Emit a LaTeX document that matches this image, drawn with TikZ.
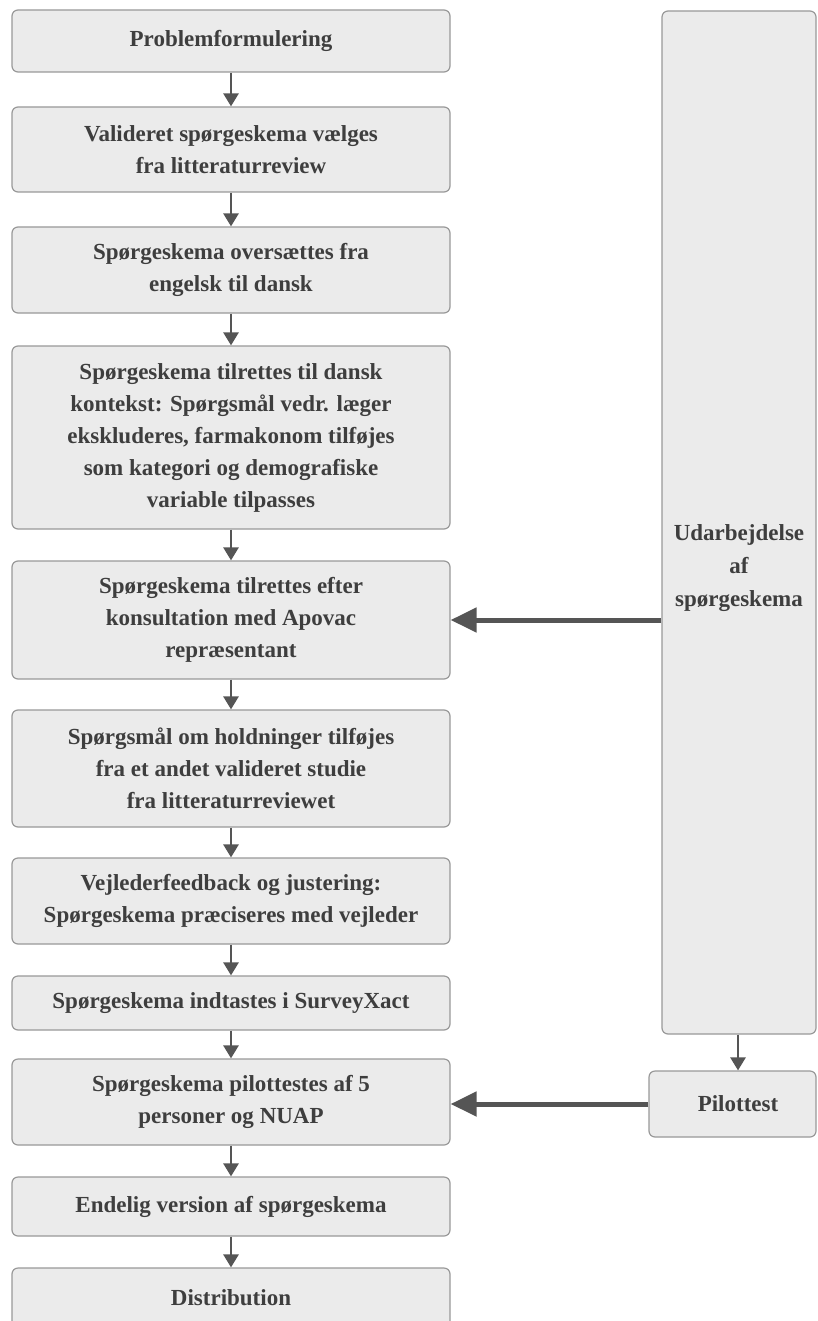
\documentclass[tikz,border=0pt]{standalone}
\usepackage{fontspec}
\setmainfont{Liberation Serif}
\usetikzlibrary{arrows.meta}
\definecolor{boxfill}{HTML}{EBEBEB}
\definecolor{boxline}{HTML}{999999}
\definecolor{txt}{HTML}{3E3E3E}
\definecolor{arr}{HTML}{555555}
\tikzset{
  stepbox/.style={draw=boxline, fill=boxfill, line width=1.2pt, rounded corners=6pt,
    minimum width=438pt, align=center, text=txt, inner sep=0pt,
    font=\fontsize{23}{32}\selectfont\bfseries},
  sidebox/.style={draw=boxline, fill=boxfill, line width=1.2pt, rounded corners=6pt,
    inner sep=0pt},
  sidetext/.style={align=center, text=txt, inner sep=0pt,
    font=\fontsize{23}{33}\selectfont\bfseries},
  flow/.style={draw=arr, line width=2.6pt, -{Triangle[width=15pt,length=13pt]}},
  feed/.style={draw=arr, line width=5pt, -{Triangle[width=24pt,length=26pt]}},
}
\begin{document}
\begin{tikzpicture}[x=1pt,y=-1pt]
\clip (0,0) rectangle (817,1321);
\fill[white] (0,0) rectangle (817,1321);
% left column
\node[stepbox, minimum height=62pt]  (b1)  at (231,41)    {Problemformulering};
\node[stepbox, minimum height=85pt]  (b2)  at (231,149.5) {Valideret spørgeskema vælges\\fra litteraturreview};
\node[stepbox, minimum height=86pt]  (b3)  at (231,270)   {Spørgeskema oversættes fra\\engelsk til dansk};
\node[stepbox, minimum height=183pt] (b4)  at (231,437.5) {Spørgeskema tilrettes til dansk\\kontekst: Spørgsmål vedr. læger\\ekskluderes, farmakonom tilføjes\\som kategori og demografiske\\variable tilpasses};
\node[stepbox, minimum height=118pt] (b5)  at (231,620)   {Spørgeskema tilrettes efter\\konsultation med Apovac\\repræsentant};
\node[stepbox, minimum height=117pt] (b6)  at (231,768.5) {Spørgsmål om holdninger tilføjes\\fra et andet valideret studie\\fra litteraturreviewet};
\node[stepbox, minimum height=86pt]  (b7)  at (231,901)   {Vejlederfeedback og justering:\\Spørgeskema præciseres med vejleder};
\node[stepbox, minimum height=54pt]  (b8)  at (231,1003)  {Spørgeskema indtastes i SurveyXact};
\node[stepbox, minimum height=86pt]  (b9)  at (231,1102)  {Spørgeskema pilottestes af 5\\personer og NUAP};
\node[stepbox, minimum height=59pt]  (b10) at (231,1206.5){Endelig version af spørgeskema};
\node[stepbox, minimum height=90pt]  (b11) at (231,1313)  {};
\node[text=txt, font=\fontsize{23}{32}\selectfont\bfseries] (b11t) at (231,1298) {Distribution};
% right column
\node[sidebox, minimum width=154pt, minimum height=1023pt] (col) at (739,522.5) {};
\node[sidetext] (colt) at (739,568) {Udarbejdelse\\af\\spørgeskema};
\node[sidebox, minimum width=167pt, minimum height=66pt] (pil) at (732.5,1104) {};
\node[sidetext] (pilt) at (738,1104) {Pilottest};
% arrows
\draw[flow] (b1) -- (b2);
\draw[flow] (b2) -- (b3);
\draw[flow] (b3) -- (b4);
\draw[flow] (b4) -- (b5);
\draw[flow] (b5) -- (b6);
\draw[flow] (b6) -- (b7);
\draw[flow] (b7) -- (b8);
\draw[flow] (b8) -- (b9);
\draw[flow] (b9) -- (b10);
\draw[flow] (b10) -- (b11);
\draw[flow] (col.south -| pilt) -- (pil.north -| pilt);
\draw[feed] (col.west |- b5.east) -- (b5.east);
\draw[feed] (pil.west) -- (pil.west -| b9.east);
\end{tikzpicture}
\end{document}
